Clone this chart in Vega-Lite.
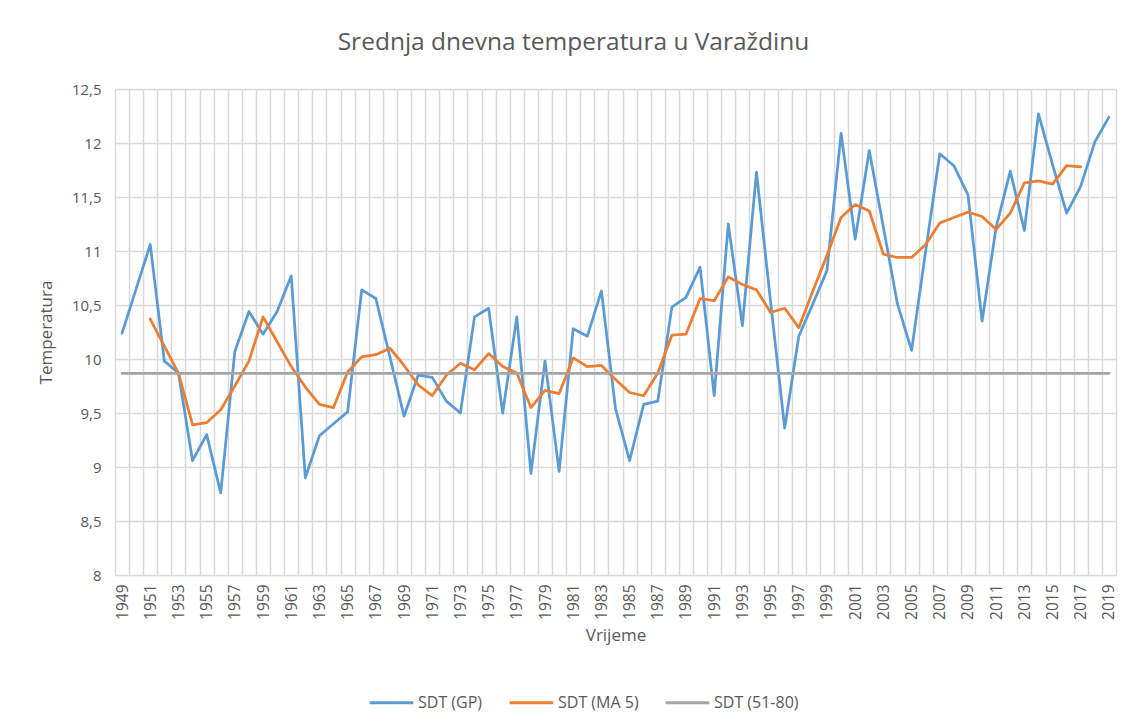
{
  "$schema": "https://vega.github.io/schema/vega-lite/v6.json",
  "autosize": {"type": "none"},
  "width": 1001,
  "height": 486,
  "padding": {"left": 115, "top": 89, "right": 19, "bottom": 150},
  "background": "white",
  "title": {
    "text": "Srednja dnevna temperatura u Varaždinu",
    "font": "Open Sans",
    "fontSize": 24.5,
    "fontWeight": "normal",
    "color": "#595959",
    "anchor": "middle",
    "dx": -42,
    "offset": 27
  },
  "data": {
    "values": [
      {"year": 1949, "s": "SDT (GP)", "v": 10.24},
      {"year": 1950, "s": "SDT (GP)", "v": 10.65},
      {"year": 1951, "s": "SDT (GP)", "v": 11.06},
      {"year": 1952, "s": "SDT (GP)", "v": 9.98},
      {"year": 1953, "s": "SDT (GP)", "v": 9.87},
      {"year": 1954, "s": "SDT (GP)", "v": 9.06},
      {"year": 1955, "s": "SDT (GP)", "v": 9.3},
      {"year": 1956, "s": "SDT (GP)", "v": 8.76},
      {"year": 1957, "s": "SDT (GP)", "v": 10.07},
      {"year": 1958, "s": "SDT (GP)", "v": 10.44},
      {"year": 1959, "s": "SDT (GP)", "v": 10.23},
      {"year": 1960, "s": "SDT (GP)", "v": 10.44},
      {"year": 1961, "s": "SDT (GP)", "v": 10.77},
      {"year": 1962, "s": "SDT (GP)", "v": 8.9},
      {"year": 1963, "s": "SDT (GP)", "v": 9.29},
      {"year": 1964, "s": "SDT (GP)", "v": 9.4},
      {"year": 1965, "s": "SDT (GP)", "v": 9.51},
      {"year": 1966, "s": "SDT (GP)", "v": 10.64},
      {"year": 1967, "s": "SDT (GP)", "v": 10.56},
      {"year": 1968, "s": "SDT (GP)", "v": 10.02},
      {"year": 1969, "s": "SDT (GP)", "v": 9.47},
      {"year": 1970, "s": "SDT (GP)", "v": 9.85},
      {"year": 1971, "s": "SDT (GP)", "v": 9.83},
      {"year": 1972, "s": "SDT (GP)", "v": 9.61},
      {"year": 1973, "s": "SDT (GP)", "v": 9.5},
      {"year": 1974, "s": "SDT (GP)", "v": 10.39},
      {"year": 1975, "s": "SDT (GP)", "v": 10.47},
      {"year": 1976, "s": "SDT (GP)", "v": 9.5},
      {"year": 1977, "s": "SDT (GP)", "v": 10.39},
      {"year": 1978, "s": "SDT (GP)", "v": 8.94},
      {"year": 1979, "s": "SDT (GP)", "v": 9.98},
      {"year": 1980, "s": "SDT (GP)", "v": 8.96},
      {"year": 1981, "s": "SDT (GP)", "v": 10.28},
      {"year": 1982, "s": "SDT (GP)", "v": 10.21},
      {"year": 1983, "s": "SDT (GP)", "v": 10.63},
      {"year": 1984, "s": "SDT (GP)", "v": 9.54},
      {"year": 1985, "s": "SDT (GP)", "v": 9.06},
      {"year": 1986, "s": "SDT (GP)", "v": 9.58},
      {"year": 1987, "s": "SDT (GP)", "v": 9.61},
      {"year": 1988, "s": "SDT (GP)", "v": 10.48},
      {"year": 1989, "s": "SDT (GP)", "v": 10.57},
      {"year": 1990, "s": "SDT (GP)", "v": 10.85},
      {"year": 1991, "s": "SDT (GP)", "v": 9.66},
      {"year": 1992, "s": "SDT (GP)", "v": 11.25},
      {"year": 1993, "s": "SDT (GP)", "v": 10.31},
      {"year": 1994, "s": "SDT (GP)", "v": 11.73},
      {"year": 1995, "s": "SDT (GP)", "v": 10.53},
      {"year": 1996, "s": "SDT (GP)", "v": 9.36},
      {"year": 1997, "s": "SDT (GP)", "v": 10.21},
      {"year": 1998, "s": "SDT (GP)", "v": 10.51},
      {"year": 1999, "s": "SDT (GP)", "v": 10.82},
      {"year": 2000, "s": "SDT (GP)", "v": 12.09},
      {"year": 2001, "s": "SDT (GP)", "v": 11.11},
      {"year": 2002, "s": "SDT (GP)", "v": 11.93},
      {"year": 2003, "s": "SDT (GP)", "v": 11.22},
      {"year": 2004, "s": "SDT (GP)", "v": 10.51},
      {"year": 2005, "s": "SDT (GP)", "v": 10.08},
      {"year": 2006, "s": "SDT (GP)", "v": 11.0},
      {"year": 2007, "s": "SDT (GP)", "v": 11.9},
      {"year": 2008, "s": "SDT (GP)", "v": 11.79},
      {"year": 2009, "s": "SDT (GP)", "v": 11.52},
      {"year": 2010, "s": "SDT (GP)", "v": 10.35},
      {"year": 2011, "s": "SDT (GP)", "v": 11.22},
      {"year": 2012, "s": "SDT (GP)", "v": 11.74},
      {"year": 2013, "s": "SDT (GP)", "v": 11.19},
      {"year": 2014, "s": "SDT (GP)", "v": 12.27},
      {"year": 2015, "s": "SDT (GP)", "v": 11.8},
      {"year": 2016, "s": "SDT (GP)", "v": 11.35},
      {"year": 2017, "s": "SDT (GP)", "v": 11.6},
      {"year": 2018, "s": "SDT (GP)", "v": 12.01},
      {"year": 2019, "s": "SDT (GP)", "v": 12.24},
      {"year": 1951, "s": "SDT (MA 5)", "v": 10.37},
      {"year": 1952, "s": "SDT (MA 5)", "v": 10.12},
      {"year": 1953, "s": "SDT (MA 5)", "v": 9.87},
      {"year": 1954, "s": "SDT (MA 5)", "v": 9.39},
      {"year": 1955, "s": "SDT (MA 5)", "v": 9.41},
      {"year": 1956, "s": "SDT (MA 5)", "v": 9.53},
      {"year": 1957, "s": "SDT (MA 5)", "v": 9.75},
      {"year": 1958, "s": "SDT (MA 5)", "v": 9.98},
      {"year": 1959, "s": "SDT (MA 5)", "v": 10.39},
      {"year": 1960, "s": "SDT (MA 5)", "v": 10.16},
      {"year": 1961, "s": "SDT (MA 5)", "v": 9.93},
      {"year": 1962, "s": "SDT (MA 5)", "v": 9.74},
      {"year": 1963, "s": "SDT (MA 5)", "v": 9.58},
      {"year": 1964, "s": "SDT (MA 5)", "v": 9.55},
      {"year": 1965, "s": "SDT (MA 5)", "v": 9.88},
      {"year": 1966, "s": "SDT (MA 5)", "v": 10.02},
      {"year": 1967, "s": "SDT (MA 5)", "v": 10.04},
      {"year": 1968, "s": "SDT (MA 5)", "v": 10.1},
      {"year": 1969, "s": "SDT (MA 5)", "v": 9.94},
      {"year": 1970, "s": "SDT (MA 5)", "v": 9.76},
      {"year": 1971, "s": "SDT (MA 5)", "v": 9.66},
      {"year": 1972, "s": "SDT (MA 5)", "v": 9.85},
      {"year": 1973, "s": "SDT (MA 5)", "v": 9.96},
      {"year": 1974, "s": "SDT (MA 5)", "v": 9.9},
      {"year": 1975, "s": "SDT (MA 5)", "v": 10.05},
      {"year": 1976, "s": "SDT (MA 5)", "v": 9.93},
      {"year": 1977, "s": "SDT (MA 5)", "v": 9.87},
      {"year": 1978, "s": "SDT (MA 5)", "v": 9.55},
      {"year": 1979, "s": "SDT (MA 5)", "v": 9.71},
      {"year": 1980, "s": "SDT (MA 5)", "v": 9.68},
      {"year": 1981, "s": "SDT (MA 5)", "v": 10.01},
      {"year": 1982, "s": "SDT (MA 5)", "v": 9.93},
      {"year": 1983, "s": "SDT (MA 5)", "v": 9.94},
      {"year": 1984, "s": "SDT (MA 5)", "v": 9.81},
      {"year": 1985, "s": "SDT (MA 5)", "v": 9.69},
      {"year": 1986, "s": "SDT (MA 5)", "v": 9.66},
      {"year": 1987, "s": "SDT (MA 5)", "v": 9.87},
      {"year": 1988, "s": "SDT (MA 5)", "v": 10.22},
      {"year": 1989, "s": "SDT (MA 5)", "v": 10.23},
      {"year": 1990, "s": "SDT (MA 5)", "v": 10.56},
      {"year": 1991, "s": "SDT (MA 5)", "v": 10.54},
      {"year": 1992, "s": "SDT (MA 5)", "v": 10.76},
      {"year": 1993, "s": "SDT (MA 5)", "v": 10.69},
      {"year": 1994, "s": "SDT (MA 5)", "v": 10.64},
      {"year": 1995, "s": "SDT (MA 5)", "v": 10.43},
      {"year": 1996, "s": "SDT (MA 5)", "v": 10.47},
      {"year": 1997, "s": "SDT (MA 5)", "v": 10.29},
      {"year": 1998, "s": "SDT (MA 5)", "v": 10.63},
      {"year": 1999, "s": "SDT (MA 5)", "v": 10.96},
      {"year": 2000, "s": "SDT (MA 5)", "v": 11.31},
      {"year": 2001, "s": "SDT (MA 5)", "v": 11.43},
      {"year": 2002, "s": "SDT (MA 5)", "v": 11.37},
      {"year": 2003, "s": "SDT (MA 5)", "v": 10.97},
      {"year": 2004, "s": "SDT (MA 5)", "v": 10.94},
      {"year": 2005, "s": "SDT (MA 5)", "v": 10.94},
      {"year": 2006, "s": "SDT (MA 5)", "v": 11.06},
      {"year": 2007, "s": "SDT (MA 5)", "v": 11.26},
      {"year": 2008, "s": "SDT (MA 5)", "v": 11.31},
      {"year": 2009, "s": "SDT (MA 5)", "v": 11.36},
      {"year": 2010, "s": "SDT (MA 5)", "v": 11.32},
      {"year": 2011, "s": "SDT (MA 5)", "v": 11.2},
      {"year": 2012, "s": "SDT (MA 5)", "v": 11.35},
      {"year": 2013, "s": "SDT (MA 5)", "v": 11.63},
      {"year": 2014, "s": "SDT (MA 5)", "v": 11.65},
      {"year": 2015, "s": "SDT (MA 5)", "v": 11.62},
      {"year": 2016, "s": "SDT (MA 5)", "v": 11.79},
      {"year": 2017, "s": "SDT (MA 5)", "v": 11.78},
      {"year": 1949, "s": "SDT (51-80)", "v": 9.866},
      {"year": 2019, "s": "SDT (51-80)", "v": 9.866}
    ]
  },
  "mark": {"type": "line", "strokeWidth": 2.75, "strokeCap": "round", "strokeJoin": "round"},
  "encoding": {
    "x": {
      "field": "year",
      "type": "ordinal",
      "bandPosition": 0.5,
      "scale": {"type": "band", "paddingInner": 0, "paddingOuter": 0, "domain": [1949,1950,1951,1952,1953,1954,1955,1956,1957,1958,1959,1960,1961,1962,1963,1964,1965,1966,1967,1968,1969,1970,1971,1972,1973,1974,1975,1976,1977,1978,1979,1980,1981,1982,1983,1984,1985,1986,1987,1988,1989,1990,1991,1992,1993,1994,1995,1996,1997,1998,1999,2000,2001,2002,2003,2004,2005,2006,2007,2008,2009,2010,2011,2012,2013,2014,2015,2016,2017,2018,2019]},
      "axis": {
        "title": "Vrijeme",
        "tickBand": "extent",
        "grid": true,
        "gridColor": "#d9d9d9",
        "gridWidth": 1.5,
        "domain": false,
        "ticks": false,
        "labelAngle": -90,
        "labelExpr": "(datum.value - 1949) % 2 == 0 ? datum.value : ''",
        "labelFont": "Open Sans",
        "labelFontSize": 15.5,
        "labelColor": "#595959",
        "labelPadding": 9,
        "labelOverlap": false,
        "titleFont": "Open Sans",
        "titleFontSize": 17,
        "titleFontWeight": "normal",
        "titleColor": "#595959",
        "titlePadding": 8
      }
    },
    "y": {
      "field": "v",
      "type": "quantitative",
      "scale": {"domain": [8, 12.5], "nice": false, "zero": false},
      "axis": {
        "title": "Temperatura",
        "values": [8, 8.5, 9, 9.5, 10, 10.5, 11, 11.5, 12, 12.5],
        "labelExpr": "replace(format(datum.value, '.1~f'), '.', ',')",
        "grid": true,
        "gridColor": "#d9d9d9",
        "gridWidth": 1.5,
        "domain": false,
        "ticks": false,
        "labelFont": "Open Sans",
        "labelFontSize": 15,
        "labelColor": "#595959",
        "labelPadding": 14,
        "titleFont": "Open Sans",
        "titleFontSize": 17,
        "titleFontWeight": "normal",
        "titleColor": "#595959",
        "titlePadding": 16
      }
    },
    "color": {
      "field": "s",
      "type": "nominal",
      "sort": ["SDT (GP)", "SDT (MA 5)", "SDT (51-80)"],
      "scale": {"domain": ["SDT (GP)", "SDT (MA 5)", "SDT (51-80)"], "range": ["#5b9bd5", "#ed7d31", "#a5a5a5"]},
      "legend": {
        "title": null,
        "orient": "none",
        "direction": "horizontal",
        "legendX": 253,
        "legendY": 590,
        "symbolType": "stroke",
        "symbolSize": 1900,
        "symbolStrokeWidth": 3,
        "labelFont": "Open Sans",
        "labelFontSize": 16,
        "labelColor": "#595959",
        "labelOffset": 3,
        "columnPadding": 20
      }
    }
  },
  "config": {"view": {"stroke": null}}
}
